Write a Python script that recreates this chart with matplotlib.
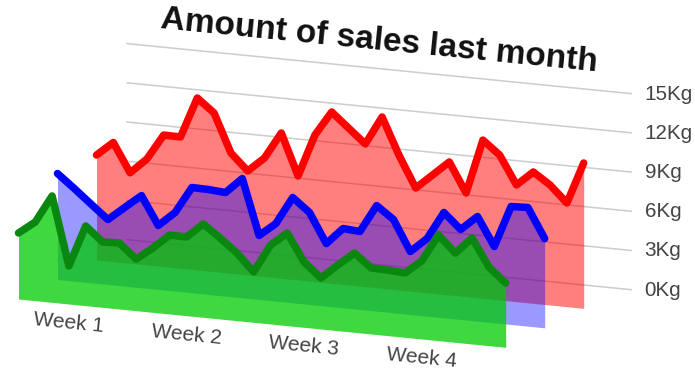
import numpy as np
import matplotlib
matplotlib.use('Agg')
import matplotlib.pyplot as plt
from matplotlib.transforms import Affine2D

plt.rcParams['font.family'] = ['Liberation Sans', 'DejaVu Sans']

title = 'Amount of sales last month'
weeks = ['Week 1', 'Week 2', 'Week 3', 'Week 4']
week_pos = [3, 10, 17, 24]
yticks = [0, 3, 6, 9, 12, 15]
ylabels = ['0Kg', '3Kg', '6Kg', '9Kg', '12Kg', '15Kg']

red = [8.03, 9.12, 6.93, 8.11, 10.07, 10.05, 13.16, 12.14, 9.21, 7.96,
       9.08, 11.12, 7.96, 11.22, 13.11, 12.01, 10.92, 13.11, 10.33, 7.93,
       9.05, 10.18, 7.93, 12.11, 11.09, 8.93, 10.05, 9.18, 7.93, 11.12]
blue = [8.11, 7.09, 6.02, 4.97, 6.02, 7.06, 4.90, 6.02, 8.06, 8.03,
        7.93, 9.13, 4.90, 5.94, 8.06, 7.04, 4.79, 6.07, 5.97, 8.08,
        7.14, 4.82, 5.94, 8.06, 6.89, 8.01, 5.84, 9.03, 9.08, 6.83]
green = [5.05, 6.02, 8.14, 2.91, 6.10, 5.00, 5.05, 3.95, 4.92, 6.04,
         6.02, 7.14, 6.20, 5.18, 3.85, 6.04, 7.09, 5.00, 3.90, 5.02,
         6.07, 5.05, 5.02, 4.92, 5.97, 8.08, 6.83, 8.11, 6.02, 4.92]

fig = plt.figure(figsize=(6.95, 3.75), dpi=100)
ax = fig.add_axes([0, 0, 1, 1])


def plane(depth):
    # sheared plane, each series sits one step in front of the last
    x0 = 135.5 - 39 * depth
    y0 = 240.5 + 19.5 * depth
    return Affine2D(np.array([[16.8, 0, x0], [1.667, -13.07, y0], [0, 0, 1]])) + ax.transData


idx = np.arange(len(red))

for t in yticks:
    ax.plot([-0.5, 29.5], [t, t], color='#cccccc', lw=1.1, transform=plane(0), zorder=1)
    ax.text(30.3, t + 0.07, ylabels[yticks.index(t)], color='#444444', fontsize=14.9,
            va='center', ha='left', transform=plane(0))

series = [(red, '#ff0000', '#ff0000', 0.5, 1),
          (blue, '#0000ff', '#0000ff', 0.4, 2),
          (green, '#0a870f', '#00cb00', 0.75, 3)]
z = 2
for vals, line_col, fill_col, alpha, depth in series:
    tr = plane(depth)
    ax.fill_between(idx, 0, vals, color=fill_col, alpha=alpha, lw=0, transform=tr, zorder=z)
    ax.plot(idx, vals, color=line_col, lw=5.4, transform=tr, zorder=z + 1,
            solid_capstyle='round', solid_joinstyle='round')
    z += 2

angle = np.degrees(np.arctan(1.667 / 16.8))
for pos, name in zip(week_pos, weeks):
    ax.text(pos, -1.45, name, color='#444444', fontsize=15, ha='center', va='center',
            rotation=-angle, rotation_mode='anchor', transform=plane(3))

ax.text(379, 41, title, color='#111111', fontsize=24, fontweight='bold', ha='center',
        va='center', rotation=-angle, rotation_mode='anchor')

ax.set_xlim(0, 695)
ax.set_ylim(375, 0)
ax.axis('off')
fig.savefig('out.png', dpi=100)
